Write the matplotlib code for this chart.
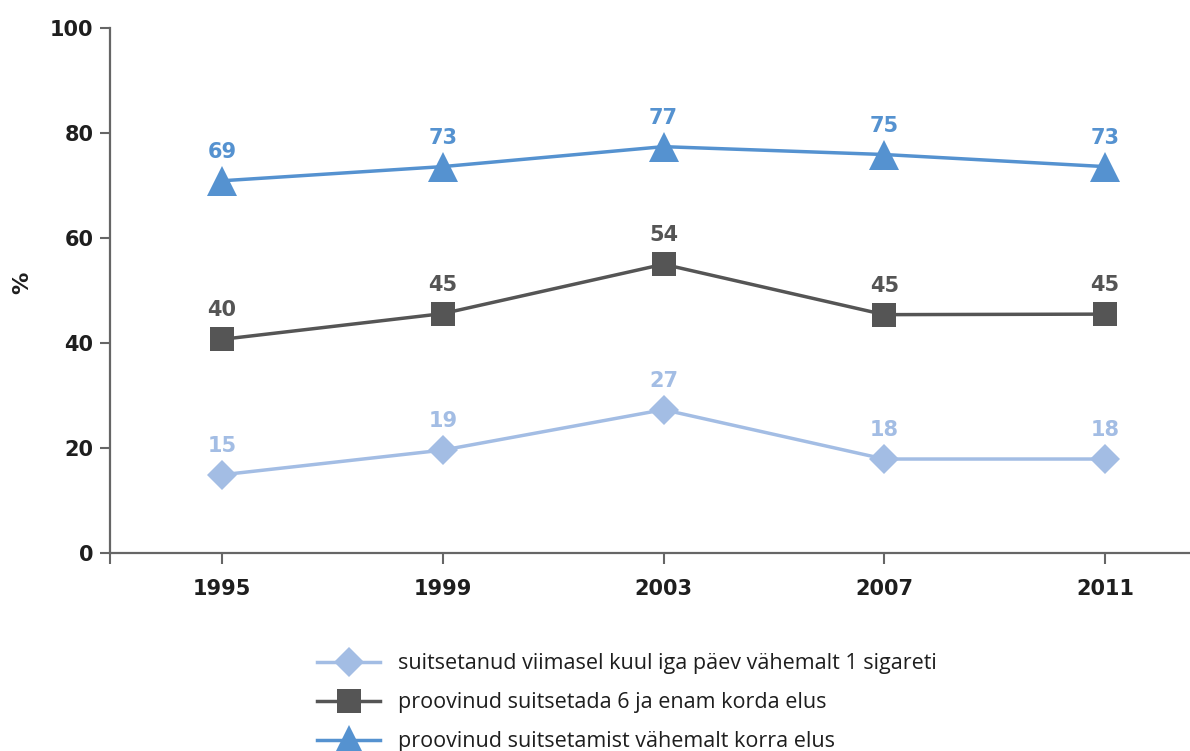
import matplotlib
matplotlib.use("Agg")
import matplotlib.pyplot as plt
from matplotlib.ticker import FixedLocator

years = ["1995", "1999", "2003", "2007", "2011"]
y_ticks = [0, 20, 40, 60, 80, 100]

daily_values = [14.9, 19.6, 27.3, 17.9, 17.9]
daily_labels = ["15", "19", "27", "18", "18"]
six_values = [40.7, 45.6, 55.0, 45.4, 45.5]
six_labels = ["40", "45", "54", "45", "45"]
once_values = [70.9, 73.6, 77.4, 75.9, 73.6]
once_labels = ["69", "73", "77", "75", "73"]

series_names = [
    "suitsetanud viimasel kuul iga päev vähemalt 1 sigareti",
    "proovinud suitsetada 6 ja enam korda elus",
    "proovinud suitsetamist vähemalt korra elus",
]

c_light = "#a3bde4"
c_dark = "#555555"
c_blue = "#5592d0"
axis_c = "#666666"
txt_c = "#1e1e1e"

W, H = 1190, 751
fig = plt.figure(figsize=(W / 100, H / 100), dpi=100)
ax = fig.add_axes([110 / W, (H - 553) / H, 1103.5 / W, 525 / H])

x = list(range(len(years)))
specs = [
    (daily_values, daily_labels, c_light, "D", 15.3),
    (six_values, six_labels, c_dark, "s", 16.6),
    (once_values, once_labels, c_blue, "^", 21.6),
]
handles = []
for (vals, labs, col, mk, ms), name in zip(specs, series_names):
    h, = ax.plot(x, vals, color=col, lw=2.5, marker=mk, markersize=ms,
                 markeredgewidth=0, clip_on=False, label=name, zorder=3)
    handles.append(h)
    for xi, v, lab in zip(x, vals, labs):
        ax.annotate(lab, (xi, v), xytext=(0, 16.5), textcoords="offset points",
                    ha="center", va="baseline", color=col, fontsize=15,
                    fontweight="bold", family="DejaVu Sans")

ax.set_xlim(-0.508, len(years) - 0.508)
ax.set_ylim(0, 100)
ax.set_xticks(x)
ax.set_xticklabels(years)
ax.xaxis.set_minor_locator(FixedLocator([-0.508]))
ax.set_yticks(y_ticks)
ax.set_yticklabels([str(t) for t in y_ticks])

for s in ["top", "right"]:
    ax.spines[s].set_visible(False)
for s in ["left", "bottom"]:
    ax.spines[s].set_color(axis_c)
    ax.spines[s].set_linewidth(1.6)

ax.tick_params(axis="y", direction="out", length=7, width=1.5, color=axis_c,
               labelsize=15, labelcolor=txt_c, pad=5)
ax.tick_params(axis="x", which="both", direction="out", length=8, width=1.5,
               color=axis_c, labelsize=15, labelcolor=txt_c, pad=11)
for lab in ax.get_xticklabels() + ax.get_yticklabels():
    lab.set_fontweight("bold")

fig.text(22 / W, 1 - 283 / H, "%", rotation=90, ha="center", va="center",
         fontsize=16, fontweight="bold", color=txt_c)

leg = fig.legend(handles=handles, labels=series_names, loc="upper left",
                 bbox_to_anchor=(317 / W, 1 - 653.5 / H), frameon=False,
                 prop={"family": "Open Sans", "size": 15.5},
                 handlelength=2.93, handletextpad=0.84, labelspacing=0.83,
                 borderaxespad=0, borderpad=0)
for t in leg.get_texts():
    t.set_color(txt_c)

fig.savefig("out.png", dpi=100)
